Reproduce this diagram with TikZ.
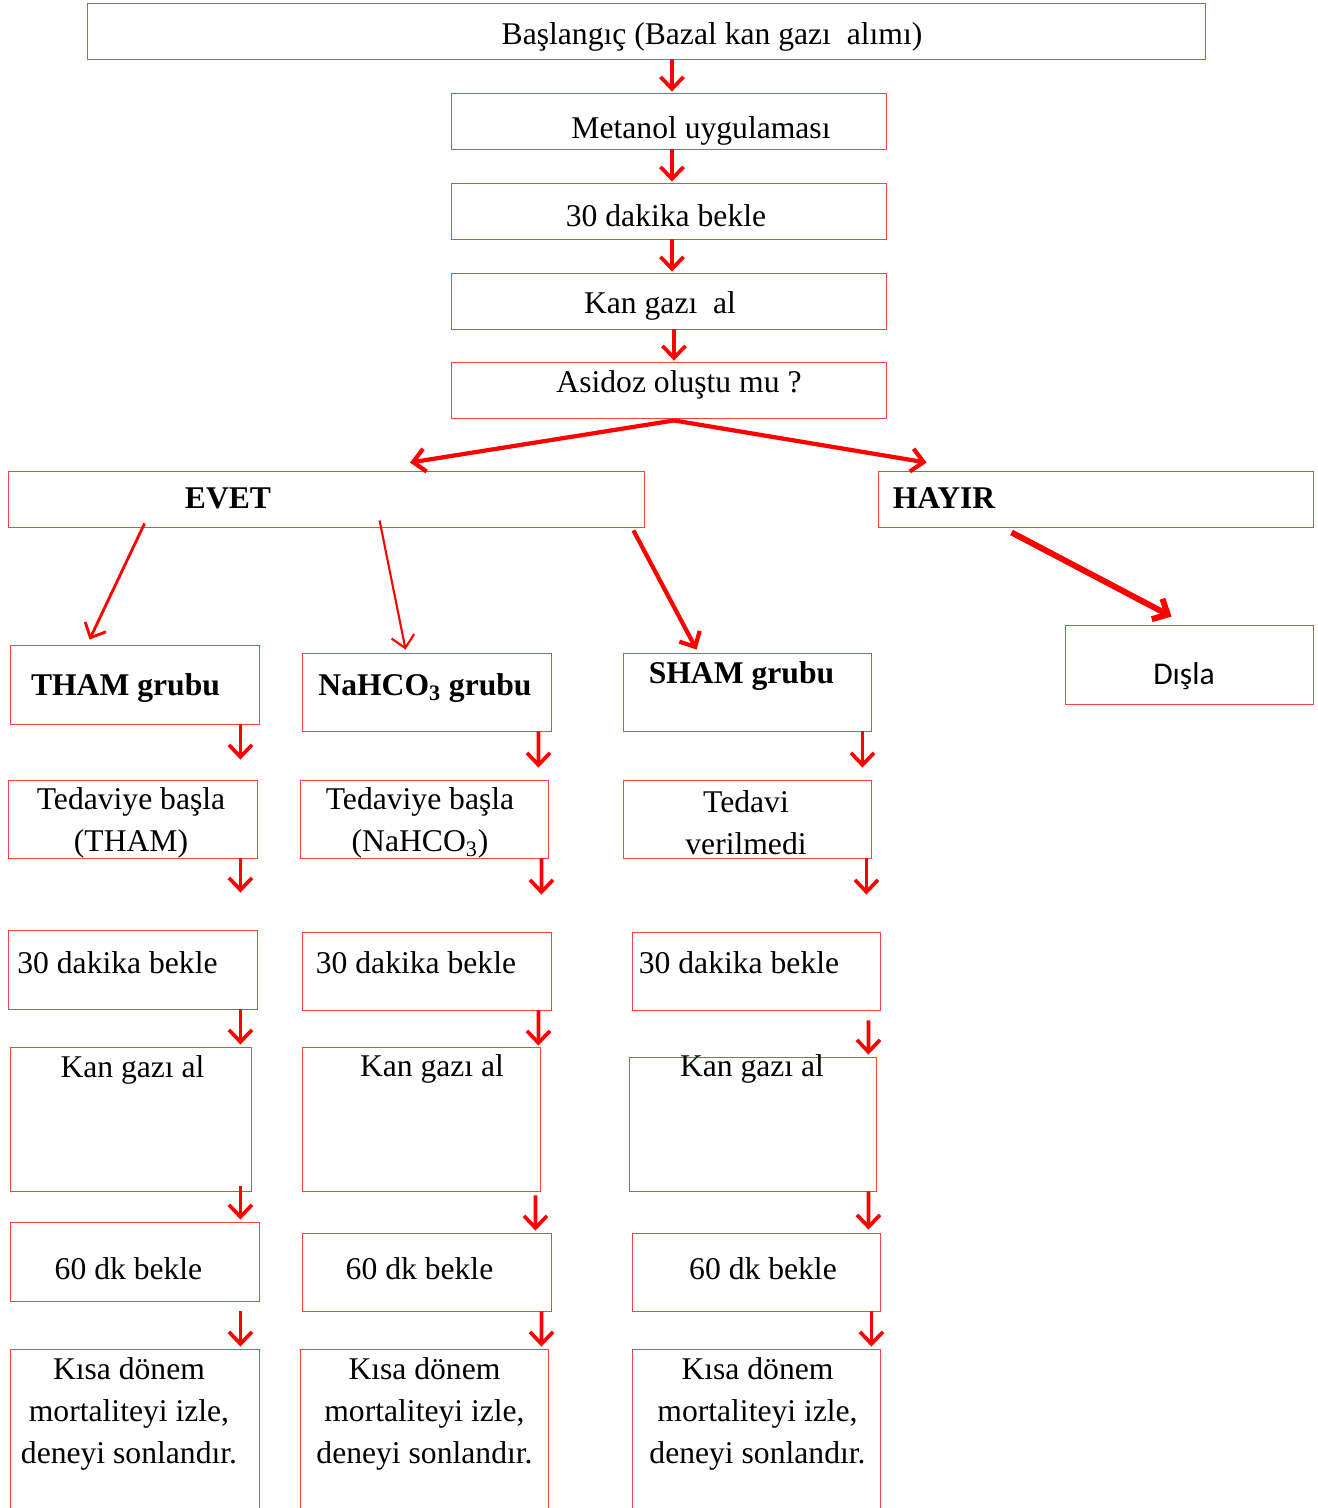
\documentclass[tikz,border=0pt]{standalone}
\usepackage{fontspec}
\setmainfont{Liberation Serif}
\newfontfamily\calibrifont{Carlito}
\usetikzlibrary{arrows.meta,calc}

\begin{document}
\begin{tikzpicture}[
    x=0.02cm, y=-0.02cm,
    box/.style={rectangle, draw=red!75, line width=0.5pt, inner sep=0pt},
    sz/.style 2 args={minimum width=#1*0.02cm, minimum height=#2*0.02cm},
    txt/.style={inner sep=0pt, align=center, yshift=-1.7pt, font=\fontsize{18}{24}\selectfont},
    head/.style={txt, font=\fontsize{18}{24}\selectfont\bfseries},
    arr/.style={draw=red, line width=2.1pt, -{Straight Barb[length=2.4mm,width=4.6mm]}}
]
    \useasboundingbox (0,0) rectangle (1318,1508);

    % --- 1. Main chain ---
    \node[box, sz={1118}{56}] (start) at (646,31) {};
    \node[txt] (startL) at (712,34) {Başlangıç (Bazal kan gazı~~alımı)};
    \node[box, sz={435}{56}] (metanol) at (668.5,121) {};
    \node[txt] (metanolL) at (701,128) {Metanol uygulaması};
    \node[box, sz={435}{56}] (bekle) at (668.5,211) {};
    \node[txt] (bekleL) at (666,213) {30 dakika bekle};
    \node[box, sz={435}{56}] (kan) at (668.5,301) {};
    \node[txt] (kanL) at (660,303) {Kan gazı~~al};
    \node[box, sz={435}{56}] (asidoz) at (668.5,390) {};
    \node[txt] (asidozL) at (679,382) {Asidoz oluştu mu ?};

    % --- 2. Decision ---
    \node[box, sz={636}{56}] (evet) at (326,499) {};
    \node[head] (evetL) at (228,495) {EVET};
    \node[box, sz={435}{56}] (hayir) at (1095.5,499) {};
    \node[head] (hayirL) at (944,495) {HAYIR};
    \node[box, sz={248}{79}] (disla) at (1189,664.5) {};
    \node[txt, font=\fontsize{18}{24}\calibrifont] (dislaL) at (1184,673) {Dışla};

    % --- 3. THAM column ---
    \node[box, sz={249}{79}] (tham) at (134.5,684.5) {};
    \node[head] (thamL) at (125.5,685) {THAM grubu};
    \node[box, sz={249}{78}] (ted1) at (132.5,819) {};
    \node[txt] (ted1L) at (131,820) {Tedaviye başla\\(THAM)};
    \node[box, sz={249}{79}] (b1) at (132.5,969.5) {};
    \node[txt] (b1L) at (117.5,960) {30 dakika bekle};
    \node[box, sz={241}{144}] (k1) at (130.5,1119) {};
    \node[txt] (k1L) at (132.5,1067) {Kan gazı al};
    \node[box, sz={249}{79}] (s1) at (134.5,1261.5) {};
    \node[txt] (s1L) at (128.5,1266) {60 dk bekle};
    \node[box, sz={249}{181}] (m1) at (134.5,1439.5) {};
    \node[txt] (m1L) at (129,1411) {Kısa dönem\\mortaliteyi izle,\\deneyi sonlandır.};

    % --- 4. NaHCO3 column ---
    \node[box, sz={249}{78}] (nahco) at (426.5,692) {};
    \node[head] (nahcoL) at (425,685) {NaHCO\textsubscript{3} grubu};
    \node[box, sz={248}{78}] (ted2) at (424,819) {};
    \node[txt] (ted2L) at (420,820) {Tedaviye başla\\(NaHCO\textsubscript{3})};
    \node[box, sz={249}{78}] (b2) at (426.5,971) {};
    \node[txt] (b2L) at (416,960) {30 dakika bekle};
    \node[box, sz={238}{144}] (k2) at (421,1119) {};
    \node[txt] (k2L) at (432,1066) {Kan gazı al};
    \node[box, sz={249}{78}] (s2) at (426.5,1272) {};
    \node[txt] (s2L) at (419.5,1266) {60 dk bekle};
    \node[box, sz={248}{181}] (m2) at (424,1439.5) {};
    \node[txt] (m2L) at (424.5,1411) {Kısa dönem\\mortaliteyi izle,\\deneyi sonlandır.};

    % --- 5. SHAM column ---
    \node[box, sz={248}{78}] (sham) at (747,692) {};
    \node[head] (shamL) at (741.5,673) {SHAM grubu};
    \node[box, sz={248}{78}] (ted3) at (747,819) {};
    \node[txt] (ted3L) at (746,820) {Tedavi\\verilmedi};
    \node[box, sz={248}{78}] (b3) at (756,971) {};
    \node[txt] (b3L) at (739,960) {30 dakika bekle};
    \node[box, sz={247}{134}] (k3) at (752.5,1124) {};
    \node[txt] (k3L) at (752,1066) {Kan gazı al};
    \node[box, sz={248}{78}] (s3) at (756,1272) {};
    \node[txt] (s3L) at (763,1266) {60 dk bekle};
    \node[box, sz={248}{181}] (m3) at (756,1439.5) {};
    \node[txt] (m3L) at (757.5,1411) {Kısa dönem\\mortaliteyi izle,\\deneyi sonlandır.};

    % --- arrows ---
    \draw[arr] ($(start.south)+(26,0)$) -- ($(metanol.north)+(3.5,-1)$);
    \draw[arr] ($(metanol.south)+(3.5,0)$) -- ($(bekle.north)+(3.5,-1)$);
    \draw[arr] ($(bekle.south)+(3.5,0)$) -- ($(kan.north)+(3.5,-1)$);
    \draw[arr] ($(kan.south)+(5.5,0)$) -- ($(asidoz.north)+(5.5,-1)$);

    \draw[arr, line width=2.4pt] ($(asidoz.south)+(5.5,2)$) -- ($(evet.north)+(84,-8)$);
    \draw[arr, line width=2.4pt] ($(asidoz.south)+(5.5,2)$) -- ($(hayir.north west)+(49,-8)$);
    \draw[arr, line width=1.6pt] ($(evet.south west)+(137,-4)$) -- ($(tham.north west)+(80,-5)$);
    \draw[arr, line width=1.2pt] ($(evet.south west)+(372,-7)$) -- ($(nahco.north west)+(104,-3)$);
    \draw[arr, line width=2.4pt] ($(evet.south east)+(-11,3)$) -- ($(sham.north west)+(74,-3)$);
    \draw[arr, line width=3.4pt] ($(hayir.south west)+(134,5)$) -- ($(disla.north west)+(107,-8)$);

    \draw[arr] ($(tham.south east)+(-19,0)$) -- ($(ted1.north east)+(-17,-20)$);
    \draw[arr] ($(ted1.south east)+(-17,0)$) -- ($(b1.north east)+(-17,-37)$);
    \draw[arr] ($(b1.south east)+(-17,0)$) -- ($(k1.north east)+(-11,-2)$);
    \draw[arr] ($(k1.south east)+(-11,-5)$) -- ($(s1.north east)+(-19,-2)$);
    \draw[arr] ($(s1.south east)+(-19,10)$) -- ($(m1.north east)+(-19,-2)$);

    \draw[arr] ($(nahco.south east)+(-13,0)$) -- ($(ted2.north east)+(-10,-12)$);
    \draw[arr] ($(ted2.south east)+(-7,0)$) -- ($(b2.north east)+(-10,-37)$);
    \draw[arr] ($(b2.south east)+(-13,0)$) -- ($(k2.north east)+(-2,-1)$);
    \draw[arr] ($(k2.south east)+(-5,4)$) -- ($(s2.north east)+(-16,-2)$);
    \draw[arr] ($(s2.south east)+(-10,0)$) -- ($(m2.north east)+(-7,-2)$);

    \draw[arr] ($(sham.south east)+(-9,0)$) -- ($(ted3.north east)+(-9,-12)$);
    \draw[arr] ($(ted3.south east)+(-5,0)$) -- ($(b3.north east)+(-14,-37)$);
    \draw[arr] ($(b3.south east)+(-12,10)$) -- ($(k3.north east)+(-8,-2)$);
    \draw[arr] ($(k3.south east)+(-8,0)$) -- ($(s3.north east)+(-12,-3)$);
    \draw[arr] ($(s3.south east)+(-9,0)$) -- ($(m3.north east)+(-9,-2)$);
\end{tikzpicture}
\end{document}
